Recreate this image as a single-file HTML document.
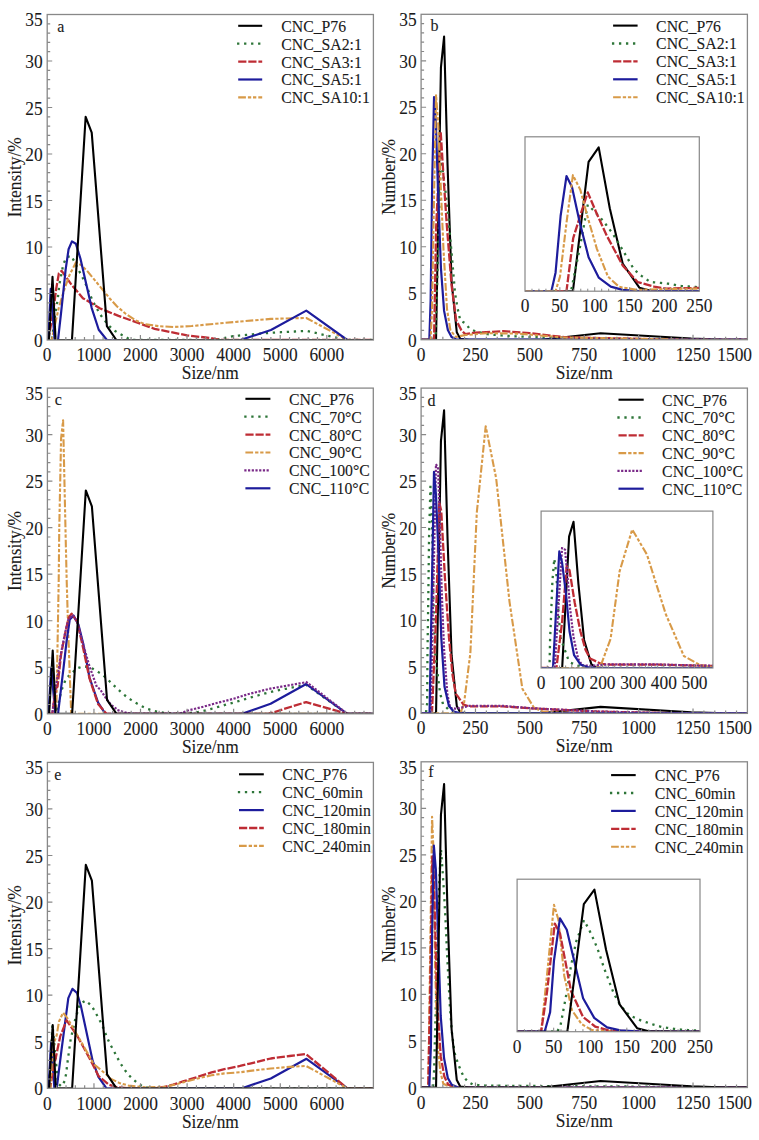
<!DOCTYPE html>
<html><head><meta charset="utf-8"><style>
html,body{margin:0;padding:0;background:#fff;}
svg{display:block;}
text{font-family:"Liberation Serif", serif;fill:#1a1a1a;stroke:#1a1a1a;stroke-width:0.1px;}
</style></head><body>
<svg width="759" height="1140" viewBox="0 0 759 1140">
<rect width="759" height="1140" fill="#fff"/>
<clipPath id="c1"><rect x="47.2" y="14.5" width="326.2" height="325.5"/></clipPath>
<g clip-path="url(#c1)">
<polyline points="47.2,340 51.86,340 55.31,313.96 57.59,300.01 59.41,284.2 63.32,264.2 66.49,257.23 71.48,256.02 77.86,268.67 81.68,275.83 84.85,281.97 89.98,294.8 93.15,301.87 100.18,314.52 104.56,320.19 109.04,325.86 114.07,330.42 120.46,334.23 131.08,340 214.96,340 233.79,336 270.93,332.75 306.3,330.89 347.26,340 373.4,340" stroke="#2d7538" stroke-width="2.3" fill="none" stroke-linejoin="round" stroke-dasharray="0.01 7.0" stroke-linecap="square"/>
<polyline points="47.2,340 48.13,340 52.98,313.68 56.19,288.85 58.9,273.23 61.69,270.9 65.37,276.02 71.76,285.13 82.9,298.15 100.18,308.47 118.54,315.91 154.61,328.84 187,335.35 210.77,338.14 219.62,340 373.4,340" stroke="#be2c34" stroke-width="2.3" fill="none" stroke-linejoin="round" stroke-dasharray="8.2 1.9"/>
<polyline points="47.2,340 51.86,340 54.66,326.05 58.85,307.45 64.49,288.85 69.57,274.9 76,262.35 81.08,264.95 87.37,271.18 98.88,285.13 110.25,299.08 117.1,306.52 125.95,313.96 135.74,320.47 145.06,324.19 159.04,326.24 173.91,326.98 191.66,326.05 210.3,324.19 240.36,321.49 270.93,318.89 306.3,317.96 347.26,340 373.4,340" stroke="#d89a48" stroke-width="2.1" fill="none" stroke-linejoin="round" stroke-dasharray="7.7 2 3.3 1.8 3.3 2"/>
<polyline points="47.2,340 48.37,340 50.7,288.85 54.66,340 58.01,340 60.96,313.96 63.14,293.5 65.66,269.32 68.58,249.23 71.95,241.42 75.86,243.75 80.4,258.53 91.72,308.1 98.74,329.77 106.89,340 240.36,340 270.93,330.05 306.3,310.61 347.26,340 373.4,340" stroke="#1d1c9c" stroke-width="2.2" fill="none" stroke-linejoin="round"/>
<polyline points="47.2,340 48.96,340 52.51,276.76 55.59,340 71.95,340 85.65,116.8 91.72,132.61 106.89,326.05 116.35,340 373.4,340" stroke="#000000" stroke-width="2.1" fill="none" stroke-linejoin="round"/>
</g>
<rect x="47.2" y="14.5" width="326.2" height="325.5" fill="none" stroke="#888888" stroke-width="1.3"/>
<path d="M47.2,330.7h3M47.2,321.4h3M47.2,312.1h3M47.2,302.8h3M47.2,293.5h5M47.2,284.2h3M47.2,274.9h3M47.2,265.6h3M47.2,256.3h3M47.2,247h5M47.2,237.7h3M47.2,228.4h3M47.2,219.1h3M47.2,209.8h3M47.2,200.5h5M47.2,191.2h3M47.2,181.9h3M47.2,172.6h3M47.2,163.3h3M47.2,154h5M47.2,144.7h3M47.2,135.4h3M47.2,126.1h3M47.2,116.8h3M47.2,107.5h5M47.2,98.2h3M47.2,88.9h3M47.2,79.6h3M47.2,70.3h3M47.2,61h5M47.2,51.7h3M47.2,42.4h3M47.2,33.1h3M47.2,23.8h3M56.52,340v-3M65.84,340v-3M75.16,340v-3M84.48,340v-3M93.8,340v-5M103.12,340v-3M112.44,340v-3M121.76,340v-3M131.08,340v-3M140.4,340v-5M149.72,340v-3M159.04,340v-3M168.36,340v-3M177.68,340v-3M187,340v-5M196.32,340v-3M205.64,340v-3M214.96,340v-3M224.28,340v-3M233.6,340v-5M242.92,340v-3M252.24,340v-3M261.56,340v-3M270.88,340v-3M280.2,340v-5M289.52,340v-3M298.84,340v-3M308.16,340v-3M317.48,340v-3M326.8,340v-5M336.12,340v-3M345.44,340v-3M354.76,340v-3M364.08,340v-3" stroke="#888888" stroke-width="1.2" fill="none"/>
<text transform="translate(42.7,347) scale(0.965,1)" font-size="18" text-anchor="end" >0</text>
<text transform="translate(42.7,300.5) scale(0.965,1)" font-size="18" text-anchor="end" >5</text>
<text transform="translate(42.7,254) scale(0.965,1)" font-size="18" text-anchor="end" >10</text>
<text transform="translate(42.7,207.5) scale(0.965,1)" font-size="18" text-anchor="end" >15</text>
<text transform="translate(42.7,161) scale(0.965,1)" font-size="18" text-anchor="end" >20</text>
<text transform="translate(42.7,114.5) scale(0.965,1)" font-size="18" text-anchor="end" >25</text>
<text transform="translate(42.7,68) scale(0.965,1)" font-size="18" text-anchor="end" >30</text>
<text transform="translate(42.7,26.3) scale(0.965,1)" font-size="18" text-anchor="end" >35</text>
<text transform="translate(47.2,361) scale(0.965,1)" font-size="18" text-anchor="middle" >0</text>
<text transform="translate(93.8,361) scale(0.965,1)" font-size="18" text-anchor="middle" >1000</text>
<text transform="translate(140.4,361) scale(0.965,1)" font-size="18" text-anchor="middle" >2000</text>
<text transform="translate(187,361) scale(0.965,1)" font-size="18" text-anchor="middle" >3000</text>
<text transform="translate(233.6,361) scale(0.965,1)" font-size="18" text-anchor="middle" >4000</text>
<text transform="translate(280.2,361) scale(0.965,1)" font-size="18" text-anchor="middle" >5000</text>
<text transform="translate(326.8,361) scale(0.965,1)" font-size="18" text-anchor="middle" >6000</text>
<text transform="translate(210.3,379) scale(0.965,1)" font-size="18" text-anchor="middle" >Size/nm</text>
<text transform="translate(20.6,177.25) rotate(-90) scale(0.965,1)" font-size="18" text-anchor="middle">Intensity/%</text>
<text x="57.3" y="31.9" font-size="16" text-anchor="start" >a</text>
<path d="M238.2,25.8H262.2" stroke="#000000" stroke-width="2.1" fill="none" stroke-linejoin="round"/>
<text transform="translate(281.2,31.7) scale(0.94,1)" font-size="16.8" text-anchor="start" >CNC_P76</text>
<path d="M238.2,43.7H262.2" stroke="#2d7538" stroke-width="2.3" fill="none" stroke-linejoin="round" stroke-dasharray="0.01 7.0" stroke-linecap="square"/>
<text transform="translate(281.2,49.6) scale(0.94,1)" font-size="16.8" text-anchor="start" >CNC_SA2:1</text>
<path d="M238.2,61.6H262.2" stroke="#be2c34" stroke-width="2.3" fill="none" stroke-linejoin="round" stroke-dasharray="8.2 1.9"/>
<text transform="translate(281.2,67.5) scale(0.94,1)" font-size="16.8" text-anchor="start" >CNC_SA3:1</text>
<path d="M238.2,79.5H262.2" stroke="#1d1c9c" stroke-width="2.2" fill="none" stroke-linejoin="round"/>
<text transform="translate(281.2,85.4) scale(0.94,1)" font-size="16.8" text-anchor="start" >CNC_SA5:1</text>
<path d="M238.2,97.4H262.2" stroke="#d89a48" stroke-width="2.1" fill="none" stroke-linejoin="round" stroke-dasharray="7.7 2 3.3 1.8 3.3 2"/>
<text transform="translate(281.2,103.3) scale(0.94,1)" font-size="16.8" text-anchor="start" >CNC_SA10:1</text>
<clipPath id="c2"><rect x="421.1" y="14.3" width="326.3" height="325.4"/></clipPath>
<g clip-path="url(#c2)">
<polyline points="421.1,339.7 436.04,339.7 440.94,67.29 444.09,36.61 447.55,164.91 451.58,281.5 456.78,332.26 460.26,338.77 468.96,339.7 541.18,339.7 600.57,333.19 691.28,338.49 725.65,339.7 747.4,339.7" stroke="#000000" stroke-width="2.1" fill="none" stroke-linejoin="round"/>
<polyline points="421.1,339.7 435.46,339.7 438.25,246.73 440.68,157.48 442.66,170.49 445.53,191.88 448.42,217.91 451.86,256.03 455.04,293.21 457.36,307.16 460.23,320.36 463.69,322.41 466.56,324.36 469.39,328.54 475.48,331.33 486.36,334.12 508.11,335.98 551.62,337.84 595.13,339.7 747.4,339.7" stroke="#2d7538" stroke-width="2.3" fill="none" stroke-linejoin="round" stroke-dasharray="0.01 7.0" stroke-linecap="square"/>
<polyline points="421.1,339.7 434.04,339.7 436.13,228.13 438.44,177.93 440.68,131.44 443.53,177 446.68,223.49 451.58,285.31 456.21,320.36 461.39,330.22 465.26,334.12 475.48,332.73 503.11,331.15 529.87,333.19 566.41,337.38 660.39,339.24 682.14,339.7 747.4,339.7" stroke="#be2c34" stroke-width="2.3" fill="none" stroke-linejoin="round" stroke-dasharray="8.2 1.9"/>
<polyline points="421.1,339.7 429.33,339.7 430.63,300.65 432.22,180.72 434.04,97.04 435.76,120.29 438.07,191.88 440.94,268.11 444.09,310.88 447.86,330.03 451.55,336.91 456.78,339.7 747.4,339.7" stroke="#1d1c9c" stroke-width="2.2" fill="none" stroke-linejoin="round"/>
<polyline points="421.1,339.7 430.63,339.7 432.02,309.02 434.04,195.59 436.04,95.19 438.35,125.87 440.68,184.44 443.53,250.45 446.99,309.02 450.45,330.4 455.91,336.91 465.26,335.05 486.36,333.19 518.99,333.66 562.5,337.38 660.39,339.24 682.14,339.7 747.4,339.7" stroke="#d89a48" stroke-width="2.1" fill="none" stroke-linejoin="round" stroke-dasharray="7.7 2 3.3 1.8 3.3 2"/>
</g>
<rect x="421.1" y="14.3" width="326.3" height="325.4" fill="none" stroke="#888888" stroke-width="1.3"/>
<path d="M421.1,330.4h3M421.1,321.11h3M421.1,311.81h3M421.1,302.51h3M421.1,293.21h5M421.1,283.92h3M421.1,274.62h3M421.1,265.32h3M421.1,256.03h3M421.1,246.73h5M421.1,237.43h3M421.1,228.13h3M421.1,218.84h3M421.1,209.54h3M421.1,200.24h5M421.1,190.95h3M421.1,181.65h3M421.1,172.35h3M421.1,163.05h3M421.1,153.76h5M421.1,144.46h3M421.1,135.16h3M421.1,125.87h3M421.1,116.57h3M421.1,107.27h5M421.1,97.97h3M421.1,88.68h3M421.1,79.38h3M421.1,70.08h3M421.1,60.79h5M421.1,51.49h3M421.1,42.19h3M421.1,32.89h3M421.1,23.6h3M431.98,339.7v-3M442.85,339.7v-3M453.73,339.7v-3M464.61,339.7v-3M475.48,339.7v-5M486.36,339.7v-3M497.24,339.7v-3M508.11,339.7v-3M518.99,339.7v-3M529.87,339.7v-5M540.74,339.7v-3M551.62,339.7v-3M562.5,339.7v-3M573.37,339.7v-3M584.25,339.7v-5M595.13,339.7v-3M606,339.7v-3M616.88,339.7v-3M627.76,339.7v-3M638.63,339.7v-5M649.51,339.7v-3M660.39,339.7v-3M671.26,339.7v-3M682.14,339.7v-3M693.02,339.7v-5M703.89,339.7v-3M714.77,339.7v-3M725.65,339.7v-3M736.52,339.7v-3" stroke="#888888" stroke-width="1.2" fill="none"/>
<text transform="translate(416.6,346.7) scale(0.965,1)" font-size="18" text-anchor="end" >0</text>
<text transform="translate(416.6,300.21) scale(0.965,1)" font-size="18" text-anchor="end" >5</text>
<text transform="translate(416.6,253.73) scale(0.965,1)" font-size="18" text-anchor="end" >10</text>
<text transform="translate(416.6,207.24) scale(0.965,1)" font-size="18" text-anchor="end" >15</text>
<text transform="translate(416.6,160.76) scale(0.965,1)" font-size="18" text-anchor="end" >20</text>
<text transform="translate(416.6,114.27) scale(0.965,1)" font-size="18" text-anchor="end" >25</text>
<text transform="translate(416.6,67.79) scale(0.965,1)" font-size="18" text-anchor="end" >30</text>
<text transform="translate(416.6,26.1) scale(0.965,1)" font-size="18" text-anchor="end" >35</text>
<text transform="translate(421.1,360.7) scale(0.965,1)" font-size="18" text-anchor="middle" >0</text>
<text transform="translate(475.48,360.7) scale(0.965,1)" font-size="18" text-anchor="middle" >250</text>
<text transform="translate(529.87,360.7) scale(0.965,1)" font-size="18" text-anchor="middle" >500</text>
<text transform="translate(584.25,360.7) scale(0.965,1)" font-size="18" text-anchor="middle" >750</text>
<text transform="translate(638.63,360.7) scale(0.965,1)" font-size="18" text-anchor="middle" >1000</text>
<text transform="translate(693.02,360.7) scale(0.965,1)" font-size="18" text-anchor="middle" >1250</text>
<text transform="translate(752,360.7) scale(0.965,1)" font-size="18" text-anchor="end" >1500</text>
<text transform="translate(584.25,378.7) scale(0.965,1)" font-size="18" text-anchor="middle" >Size/nm</text>
<text transform="translate(394.5,177) rotate(-90) scale(0.965,1)" font-size="18" text-anchor="middle">Number/%</text>
<text x="430.6" y="31.1" font-size="16" text-anchor="start" >b</text>
<path d="M613.1,25.6H637.6" stroke="#000000" stroke-width="2.1" fill="none" stroke-linejoin="round"/>
<text transform="translate(656.1,31.5) scale(0.94,1)" font-size="16.8" text-anchor="start" >CNC_P76</text>
<path d="M613.1,43.5H637.6" stroke="#2d7538" stroke-width="2.3" fill="none" stroke-linejoin="round" stroke-dasharray="0.01 7.0" stroke-linecap="square"/>
<text transform="translate(656.1,49.4) scale(0.94,1)" font-size="16.8" text-anchor="start" >CNC_SA2:1</text>
<path d="M613.1,61.4H637.6" stroke="#be2c34" stroke-width="2.3" fill="none" stroke-linejoin="round" stroke-dasharray="8.2 1.9"/>
<text transform="translate(656.1,67.3) scale(0.94,1)" font-size="16.8" text-anchor="start" >CNC_SA3:1</text>
<path d="M613.1,79.3H637.6" stroke="#1d1c9c" stroke-width="2.2" fill="none" stroke-linejoin="round"/>
<text transform="translate(656.1,85.2) scale(0.94,1)" font-size="16.8" text-anchor="start" >CNC_SA5:1</text>
<path d="M613.1,97.2H637.6" stroke="#d89a48" stroke-width="2.1" fill="none" stroke-linejoin="round" stroke-dasharray="7.7 2 3.3 1.8 3.3 2"/>
<text transform="translate(656.1,103.1) scale(0.94,1)" font-size="16.8" text-anchor="start" >CNC_SA10:1</text>
<rect x="525" y="136.8" width="174.3" height="154.4" fill="#fff" stroke="none"/>
<clipPath id="c3"><rect x="525" y="136.8" width="174.3" height="154.4"/></clipPath>
<g clip-path="url(#c3)">
<polyline points="525,291.2 572.9,291.2 588.58,161.95 598.69,147.39 609.78,208.27 622.68,263.58 639.34,287.67 650.5,290.76 678.38,291.2 786.45,291.2 786.45,288.11 786.45,290.63 786.45,291.2 786.45,291.2" stroke="#000000" stroke-width="2.1" fill="none" stroke-linejoin="round"/>
<polyline points="525,291.2 571.02,291.2 579.95,247.09 587.75,204.74 594.09,210.91 603.3,221.06 612.57,233.41 623.58,251.5 633.76,269.14 641.22,275.76 650.43,282.02 661.51,282.99 670.71,283.92 679.78,285.91 699.3,287.23 734.16,288.55 786.45,289.44 786.45,290.32 786.45,291.2 786.45,291.2" stroke="#2d7538" stroke-width="2.3" fill="none" stroke-linejoin="round" stroke-dasharray="0.01 7.0" stroke-linecap="square"/>
<polyline points="525,291.2 566.48,291.2 573.18,238.26 580.57,214.44 587.75,192.38 596.88,214 606.99,236.06 622.68,265.39 637.53,282.02 654.12,286.7 666.53,288.55 699.3,287.89 786.45,287.14 786.45,288.11 786.45,290.1 786.45,290.98 786.45,291.2 786.45,291.2" stroke="#be2c34" stroke-width="2.3" fill="none" stroke-linejoin="round" stroke-dasharray="8.2 1.9"/>
<polyline points="525,291.2 551.38,291.2 555.55,272.67 560.63,215.76 566.48,176.06 571.99,187.09 579.38,221.06 588.58,257.23 598.69,277.52 610.76,286.61 622.61,289.88 639.34,291.2 786.45,291.2" stroke="#1d1c9c" stroke-width="2.2" fill="none" stroke-linejoin="round"/>
<polyline points="525,291.2 555.55,291.2 560,276.64 566.48,222.82 572.9,175.18 580.29,189.74 587.75,217.53 596.88,248.85 607.97,276.64 619.05,286.79 636.55,289.88 666.53,288.99 734.16,288.11 786.45,288.33 786.45,290.1 786.45,290.98 786.45,291.2 786.45,291.2" stroke="#d89a48" stroke-width="2.1" fill="none" stroke-linejoin="round" stroke-dasharray="7.7 2 3.3 1.8 3.3 2"/>
</g>
<rect x="525" y="136.8" width="174.3" height="154.4" fill="none" stroke="#888888" stroke-width="1.2"/>
<path d="M531.97,291.2v-2.5M538.94,291.2v-2.5M545.92,291.2v-2.5M552.89,291.2v-2.5M559.86,291.2v-4M566.83,291.2v-2.5M573.8,291.2v-2.5M580.78,291.2v-2.5M587.75,291.2v-2.5M594.72,291.2v-4M601.69,291.2v-2.5M608.66,291.2v-2.5M615.64,291.2v-2.5M622.61,291.2v-2.5M629.58,291.2v-4M636.55,291.2v-2.5M643.52,291.2v-2.5M650.5,291.2v-2.5M657.47,291.2v-2.5M664.44,291.2v-4M671.41,291.2v-2.5M678.38,291.2v-2.5M685.36,291.2v-2.5M692.33,291.2v-2.5" stroke="#888888" stroke-width="1" fill="none"/>
<text transform="translate(525,312.2) scale(0.965,1)" font-size="18" text-anchor="middle" >0</text>
<text transform="translate(559.86,312.2) scale(0.965,1)" font-size="18" text-anchor="middle" >50</text>
<text transform="translate(594.72,312.2) scale(0.965,1)" font-size="18" text-anchor="middle" >100</text>
<text transform="translate(629.58,312.2) scale(0.965,1)" font-size="18" text-anchor="middle" >150</text>
<text transform="translate(664.44,312.2) scale(0.965,1)" font-size="18" text-anchor="middle" >200</text>
<text transform="translate(699.3,312.2) scale(0.965,1)" font-size="18" text-anchor="middle" >250</text>
<clipPath id="c4"><rect x="47.4" y="388.1" width="325.9" height="325.7"/></clipPath>
<g clip-path="url(#c4)">
<polyline points="47.4,713.8 56.25,713.8 61.37,690.54 66.07,678.44 71.61,673.41 76.64,668.48 83.3,666.34 90.09,667.27 96.8,670.99 102.8,675 108.3,680.02 113.32,684.95 118.4,689.7 123.99,694.72 129.53,698.91 136,703.01 142.1,706.36 148.29,709.15 155.18,711.29 163.79,712.87 177.76,713.8 196.38,712.4 205.09,710.45 212.49,708.5 219.89,706.45 226.41,704.49 232.79,702.82 254.02,696.49 274.27,691 296.39,686.72 306.26,684.95 347.18,713.8 373.3,713.8" stroke="#2d7538" stroke-width="2.3" fill="none" stroke-linejoin="round" stroke-dasharray="0.01 7.0" stroke-linecap="square"/>
<polyline points="47.4,713.8 56.25,713.8 57.65,639.35 58.71,579.8 59.27,527.69 61.09,438.35 63.09,420.2 65.7,538.85 66.67,579.8 68.16,630.05 71.19,713.8 373.3,713.8" stroke="#d89a48" stroke-width="2.1" fill="none" stroke-linejoin="round" stroke-dasharray="7.7 2 3.3 1.8 3.3 2"/>
<polyline points="47.4,713.8 48.56,713.8 51.22,667.74 55.31,713.8 58.02,713.8 63.7,666.34 66.58,641.22 69.79,619.35 73.52,615.62 78.41,624.47 83.3,644.01 89.49,677.51 98.1,702.63 105.41,713.8 242.01,713.8 270.59,703.75 306.21,684.02 347.18,713.8 373.3,713.8" stroke="#1d1c9c" stroke-width="2.2" fill="none" stroke-linejoin="round"/>
<polyline points="47.4,713.8 52.29,713.8 55.69,688.67 57.5,686.81 61.18,653.69 65.51,631.63 68.58,617.95 71.61,613.76 77.2,621.67 83.3,648.66 89.49,678.44 98.1,704.12 100.01,706.36 106.48,713.8 268.69,713.8 306.21,702.07 347.18,713.8 373.3,713.8" stroke="#be2c34" stroke-width="2.3" fill="none" stroke-linejoin="round" stroke-dasharray="8.2 1.9"/>
<polyline points="47.4,713.8 52.29,713.8 55.69,688.67 61.18,652.38 65.51,630.98 68.58,618.88 72.54,615.16 77.2,621.67 83.3,644.94 89.49,666.34 96.8,686.81 100.01,689.23 105.5,697.51 111.09,704.87 118.4,710.36 126.55,712.87 131.2,713.8 179.3,713.8 188.51,710.36 203.32,706.73 218.08,702.63 232.79,699 248.43,694.07 270.59,688.58 306.58,682.16 347.18,713.8 373.3,713.8" stroke="#7a2a88" stroke-width="2.2" fill="none" stroke-linejoin="round" stroke-dasharray="0.01 3.7" stroke-linecap="square"/>
<polyline points="47.4,713.8 49.16,713.8 52.71,650.52 55.78,713.8 72.13,713.8 85.81,490.46 91.88,506.28 107.04,699.84 116.49,713.8 373.3,713.8" stroke="#000000" stroke-width="2.1" fill="none" stroke-linejoin="round"/>
</g>
<rect x="47.4" y="388.1" width="325.9" height="325.7" fill="none" stroke="#888888" stroke-width="1.3"/>
<path d="M47.4,704.49h3M47.4,695.19h3M47.4,685.88h3M47.4,676.58h3M47.4,667.27h5M47.4,657.97h3M47.4,648.66h3M47.4,639.35h3M47.4,630.05h3M47.4,620.74h5M47.4,611.44h3M47.4,602.13h3M47.4,592.83h3M47.4,583.52h3M47.4,574.21h5M47.4,564.91h3M47.4,555.6h3M47.4,546.3h3M47.4,536.99h3M47.4,527.69h5M47.4,518.38h3M47.4,509.07h3M47.4,499.77h3M47.4,490.46h3M47.4,481.16h5M47.4,471.85h3M47.4,462.55h3M47.4,453.24h3M47.4,443.93h3M47.4,434.63h5M47.4,425.32h3M47.4,416.02h3M47.4,406.71h3M47.4,397.41h3M56.71,713.8v-3M66.02,713.8v-3M75.33,713.8v-3M84.65,713.8v-3M93.96,713.8v-5M103.27,713.8v-3M112.58,713.8v-3M121.89,713.8v-3M131.2,713.8v-3M140.51,713.8v-5M149.83,713.8v-3M159.14,713.8v-3M168.45,713.8v-3M177.76,713.8v-3M187.07,713.8v-5M196.38,713.8v-3M205.69,713.8v-3M215.01,713.8v-3M224.32,713.8v-3M233.63,713.8v-5M242.94,713.8v-3M252.25,713.8v-3M261.56,713.8v-3M270.87,713.8v-3M280.19,713.8v-5M289.5,713.8v-3M298.81,713.8v-3M308.12,713.8v-3M317.43,713.8v-3M326.74,713.8v-5M336.05,713.8v-3M345.37,713.8v-3M354.68,713.8v-3M363.99,713.8v-3" stroke="#888888" stroke-width="1.2" fill="none"/>
<text transform="translate(42.9,720.8) scale(0.965,1)" font-size="18" text-anchor="end" >0</text>
<text transform="translate(42.9,674.27) scale(0.965,1)" font-size="18" text-anchor="end" >5</text>
<text transform="translate(42.9,627.74) scale(0.965,1)" font-size="18" text-anchor="end" >10</text>
<text transform="translate(42.9,581.21) scale(0.965,1)" font-size="18" text-anchor="end" >15</text>
<text transform="translate(42.9,534.69) scale(0.965,1)" font-size="18" text-anchor="end" >20</text>
<text transform="translate(42.9,488.16) scale(0.965,1)" font-size="18" text-anchor="end" >25</text>
<text transform="translate(42.9,441.63) scale(0.965,1)" font-size="18" text-anchor="end" >30</text>
<text transform="translate(42.9,399.9) scale(0.965,1)" font-size="18" text-anchor="end" >35</text>
<text transform="translate(47.4,734.8) scale(0.965,1)" font-size="18" text-anchor="middle" >0</text>
<text transform="translate(93.96,734.8) scale(0.965,1)" font-size="18" text-anchor="middle" >1000</text>
<text transform="translate(140.51,734.8) scale(0.965,1)" font-size="18" text-anchor="middle" >2000</text>
<text transform="translate(187.07,734.8) scale(0.965,1)" font-size="18" text-anchor="middle" >3000</text>
<text transform="translate(233.63,734.8) scale(0.965,1)" font-size="18" text-anchor="middle" >4000</text>
<text transform="translate(280.19,734.8) scale(0.965,1)" font-size="18" text-anchor="middle" >5000</text>
<text transform="translate(326.74,734.8) scale(0.965,1)" font-size="18" text-anchor="middle" >6000</text>
<text transform="translate(210.35,752.8) scale(0.965,1)" font-size="18" text-anchor="middle" >Size/nm</text>
<text transform="translate(20.8,550.95) rotate(-90) scale(0.965,1)" font-size="18" text-anchor="middle">Intensity/%</text>
<text x="54.8" y="404.8" font-size="16" text-anchor="start" >c</text>
<path d="M245.4,398.8H270.4" stroke="#000000" stroke-width="2.1" fill="none" stroke-linejoin="round"/>
<text transform="translate(288.9,404.7) scale(0.94,1)" font-size="16.8" text-anchor="start" >CNC_P76</text>
<path d="M245.4,416.7H270.4" stroke="#2d7538" stroke-width="2.3" fill="none" stroke-linejoin="round" stroke-dasharray="0.01 7.0" stroke-linecap="square"/>
<text transform="translate(288.9,422.6) scale(0.94,1)" font-size="16.8" text-anchor="start" >CNC_70°C</text>
<path d="M245.4,434.6H270.4" stroke="#be2c34" stroke-width="2.3" fill="none" stroke-linejoin="round" stroke-dasharray="8.2 1.9"/>
<text transform="translate(288.9,440.5) scale(0.94,1)" font-size="16.8" text-anchor="start" >CNC_80°C</text>
<path d="M245.4,452.5H270.4" stroke="#d89a48" stroke-width="2.1" fill="none" stroke-linejoin="round" stroke-dasharray="7.7 2 3.3 1.8 3.3 2"/>
<text transform="translate(288.9,458.4) scale(0.94,1)" font-size="16.8" text-anchor="start" >CNC_90°C</text>
<path d="M245.4,470.4H270.4" stroke="#7a2a88" stroke-width="2.2" fill="none" stroke-linejoin="round" stroke-dasharray="0.01 3.7" stroke-linecap="square"/>
<text transform="translate(288.9,476.3) scale(0.94,1)" font-size="16.8" text-anchor="start" >CNC_100°C</text>
<path d="M245.4,488.3H270.4" stroke="#1d1c9c" stroke-width="2.2" fill="none" stroke-linejoin="round"/>
<text transform="translate(288.9,494.2) scale(0.94,1)" font-size="16.8" text-anchor="start" >CNC_110°C</text>
<clipPath id="c5"><rect x="421.1" y="388.1" width="326.3" height="325.3"/></clipPath>
<g clip-path="url(#c5)">
<polyline points="421.1,713.4 436.04,713.4 440.94,441.08 444.09,410.41 447.55,538.67 451.58,655.22 456.78,705.96 460.26,712.47 468.96,713.4 541.18,713.4 600.57,706.89 691.28,712.19 725.65,713.4 747.4,713.4" stroke="#000000" stroke-width="2.1" fill="none" stroke-linejoin="round"/>
<polyline points="421.1,713.4 425.89,713.4 427.13,703.46 427.47,653.92 428.32,594.43 429.11,534.02 430.45,486.62 431.95,519.15 433.06,583.28 434.78,650.2 438.05,677.15 440.03,692.95 442.85,703.46 449.38,710.61 455.91,713.4 747.4,713.4" stroke="#2d7538" stroke-width="2.3" fill="none" stroke-linejoin="round" stroke-dasharray="0.01 7.0" stroke-linecap="square"/>
<polyline points="421.1,713.4 431.95,713.4 435.98,618.6 439.24,502.42 441.24,510.78 444.92,577.7 448.94,637.19 452.58,675.29 455.8,693.88 457.82,696.39 463.5,704.66 469.5,706.43 503.11,706.43 532.69,708.47 599.91,711.73 660.39,712.94 682.14,713.4 747.4,713.4" stroke="#be2c34" stroke-width="2.3" fill="none" stroke-linejoin="round" stroke-dasharray="8.2 1.9"/>
<polyline points="421.1,713.4 460.26,713.4 463.93,704.11 470.37,652.99 476.79,512.64 485.71,426.21 496.15,478.25 509.53,601.87 522.36,688.68 534,707.82 542.92,711.54 573.37,713.4 747.4,713.4" stroke="#d89a48" stroke-width="2.1" fill="none" stroke-linejoin="round" stroke-dasharray="7.7 2 3.3 1.8 3.3 2"/>
<polyline points="421.1,713.4 430.74,713.4 435.98,464.31 438.07,468.03 440.03,530.3 441.66,589.79 444.07,649.27 447.33,693.88 450.18,707.82 455.91,708.75 469.39,705.96 503.76,705.96 532.69,708.29 599.91,711.54 660.39,712.94 682.14,713.4 747.4,713.4" stroke="#7a2a88" stroke-width="2.2" fill="none" stroke-linejoin="round" stroke-dasharray="0.01 3.7" stroke-linecap="square"/>
<polyline points="421.1,713.4 429.54,713.4 434,471.75 435.98,494.98 438.83,561.9 441.24,637.19 444.51,686.82 448.94,705.96 453.73,711.54 460.26,713.4 747.4,713.4" stroke="#1d1c9c" stroke-width="2.2" fill="none" stroke-linejoin="round"/>
</g>
<rect x="421.1" y="388.1" width="326.3" height="325.3" fill="none" stroke="#888888" stroke-width="1.3"/>
<path d="M421.1,704.11h3M421.1,694.81h3M421.1,685.52h3M421.1,676.22h3M421.1,666.93h5M421.1,657.63h3M421.1,648.34h3M421.1,639.05h3M421.1,629.75h3M421.1,620.46h5M421.1,611.16h3M421.1,601.87h3M421.1,592.57h3M421.1,583.28h3M421.1,573.99h5M421.1,564.69h3M421.1,555.4h3M421.1,546.1h3M421.1,536.81h3M421.1,527.51h5M421.1,518.22h3M421.1,508.93h3M421.1,499.63h3M421.1,490.34h3M421.1,481.04h5M421.1,471.75h3M421.1,462.45h3M421.1,453.16h3M421.1,443.87h3M421.1,434.57h5M421.1,425.28h3M421.1,415.98h3M421.1,406.69h3M421.1,397.39h3M431.98,713.4v-3M442.85,713.4v-3M453.73,713.4v-3M464.61,713.4v-3M475.48,713.4v-5M486.36,713.4v-3M497.24,713.4v-3M508.11,713.4v-3M518.99,713.4v-3M529.87,713.4v-5M540.74,713.4v-3M551.62,713.4v-3M562.5,713.4v-3M573.37,713.4v-3M584.25,713.4v-5M595.13,713.4v-3M606,713.4v-3M616.88,713.4v-3M627.76,713.4v-3M638.63,713.4v-5M649.51,713.4v-3M660.39,713.4v-3M671.26,713.4v-3M682.14,713.4v-3M693.02,713.4v-5M703.89,713.4v-3M714.77,713.4v-3M725.65,713.4v-3M736.52,713.4v-3" stroke="#888888" stroke-width="1.2" fill="none"/>
<text transform="translate(416.6,720.4) scale(0.965,1)" font-size="18" text-anchor="end" >0</text>
<text transform="translate(416.6,673.93) scale(0.965,1)" font-size="18" text-anchor="end" >5</text>
<text transform="translate(416.6,627.46) scale(0.965,1)" font-size="18" text-anchor="end" >10</text>
<text transform="translate(416.6,580.99) scale(0.965,1)" font-size="18" text-anchor="end" >15</text>
<text transform="translate(416.6,534.51) scale(0.965,1)" font-size="18" text-anchor="end" >20</text>
<text transform="translate(416.6,488.04) scale(0.965,1)" font-size="18" text-anchor="end" >25</text>
<text transform="translate(416.6,441.57) scale(0.965,1)" font-size="18" text-anchor="end" >30</text>
<text transform="translate(416.6,399.9) scale(0.965,1)" font-size="18" text-anchor="end" >35</text>
<text transform="translate(421.1,734.4) scale(0.965,1)" font-size="18" text-anchor="middle" >0</text>
<text transform="translate(475.48,734.4) scale(0.965,1)" font-size="18" text-anchor="middle" >250</text>
<text transform="translate(529.87,734.4) scale(0.965,1)" font-size="18" text-anchor="middle" >500</text>
<text transform="translate(584.25,734.4) scale(0.965,1)" font-size="18" text-anchor="middle" >750</text>
<text transform="translate(638.63,734.4) scale(0.965,1)" font-size="18" text-anchor="middle" >1000</text>
<text transform="translate(693.02,734.4) scale(0.965,1)" font-size="18" text-anchor="middle" >1250</text>
<text transform="translate(752,734.4) scale(0.965,1)" font-size="18" text-anchor="end" >1500</text>
<text transform="translate(584.25,752.4) scale(0.965,1)" font-size="18" text-anchor="middle" >Size/nm</text>
<text transform="translate(394.5,550.75) rotate(-90) scale(0.965,1)" font-size="18" text-anchor="middle">Number/%</text>
<text x="427.4" y="405.8" font-size="16" text-anchor="start" >d</text>
<path d="M618.5,399.7H643.7" stroke="#000000" stroke-width="2.1" fill="none" stroke-linejoin="round"/>
<text transform="translate(662.1,405.6) scale(0.94,1)" font-size="16.8" text-anchor="start" >CNC_P76</text>
<path d="M618.5,417.5H643.7" stroke="#2d7538" stroke-width="2.3" fill="none" stroke-linejoin="round" stroke-dasharray="0.01 7.0" stroke-linecap="square"/>
<text transform="translate(662.1,423.4) scale(0.94,1)" font-size="16.8" text-anchor="start" >CNC_70°C</text>
<path d="M618.5,435.3H643.7" stroke="#be2c34" stroke-width="2.3" fill="none" stroke-linejoin="round" stroke-dasharray="8.2 1.9"/>
<text transform="translate(662.1,441.2) scale(0.94,1)" font-size="16.8" text-anchor="start" >CNC_80°C</text>
<path d="M618.5,453.1H643.7" stroke="#d89a48" stroke-width="2.1" fill="none" stroke-linejoin="round" stroke-dasharray="7.7 2 3.3 1.8 3.3 2"/>
<text transform="translate(662.1,459) scale(0.94,1)" font-size="16.8" text-anchor="start" >CNC_90°C</text>
<path d="M618.5,470.9H643.7" stroke="#7a2a88" stroke-width="2.2" fill="none" stroke-linejoin="round" stroke-dasharray="0.01 3.7" stroke-linecap="square"/>
<text transform="translate(662.1,476.8) scale(0.94,1)" font-size="16.8" text-anchor="start" >CNC_100°C</text>
<path d="M618.5,488.7H643.7" stroke="#1d1c9c" stroke-width="2.2" fill="none" stroke-linejoin="round"/>
<text transform="translate(662.1,494.6) scale(0.94,1)" font-size="16.8" text-anchor="start" >CNC_110°C</text>
<rect x="541.1" y="511.1" width="171.8" height="156.9" fill="#fff" stroke="none"/>
<clipPath id="c6"><rect x="541.1" y="511.1" width="171.8" height="156.9"/></clipPath>
<g clip-path="url(#c6)">
<polyline points="541.1,668 562.18,668 569.08,536.65 573.53,521.86 578.41,583.72 584.08,639.94 591.41,664.41 596.32,667.55 608.59,668 710.45,668 794.2,664.86 798.8,667.42 798.8,668 798.8,668" stroke="#000000" stroke-width="2.1" fill="none" stroke-linejoin="round"/>
<polyline points="541.1,668 547.85,668 549.6,663.2 550.09,639.31 551.29,610.62 552.39,581.48 554.29,558.62 556.41,574.31 557.97,605.24 560.4,637.52 565,650.52 567.79,658.14 571.78,663.2 580.98,666.66 590.19,668 798.8,668" stroke="#2d7538" stroke-width="2.3" fill="none" stroke-linejoin="round" stroke-dasharray="0.01 7.0" stroke-linecap="square"/>
<polyline points="541.1,668 556.41,668 562.08,622.27 566.69,566.24 569.51,570.27 574.69,602.55 580.37,631.24 585.49,649.62 590.03,658.59 592.89,659.8 600.89,663.79 609.36,664.64 656.76,664.64 698.48,665.62 793.28,667.19 798.8,667.78 798.8,668 798.8,668" stroke="#be2c34" stroke-width="2.3" fill="none" stroke-linejoin="round" stroke-dasharray="8.2 1.9"/>
<polyline points="541.1,668 596.32,668 601.51,663.52 610.59,638.86 619.64,571.17 632.22,529.48 646.94,554.58 665.81,614.21 683.91,656.08 700.32,665.31 712.9,667.1 755.85,668 798.8,668" stroke="#d89a48" stroke-width="2.1" fill="none" stroke-linejoin="round" stroke-dasharray="7.7 2 3.3 1.8 3.3 2"/>
<polyline points="541.1,668 554.69,668 562.08,547.86 565.03,549.65 567.79,579.69 570.09,608.38 573.5,637.07 578.1,658.59 582.12,665.31 590.19,665.76 609.21,664.41 657.68,664.41 698.48,665.53 793.28,667.1 798.8,667.78 798.8,668 798.8,668" stroke="#7a2a88" stroke-width="2.2" fill="none" stroke-linejoin="round" stroke-dasharray="0.01 3.7" stroke-linecap="square"/>
<polyline points="541.1,668 553,668 559.29,551.45 562.08,562.65 566.1,594.93 569.51,631.24 574.11,655.18 580.37,664.41 587.12,667.1 596.32,668 798.8,668" stroke="#1d1c9c" stroke-width="2.2" fill="none" stroke-linejoin="round"/>
</g>
<rect x="541.1" y="511.1" width="171.8" height="156.9" fill="none" stroke="#888888" stroke-width="1.2"/>
<path d="M547.24,668v-2.5M553.37,668v-2.5M559.51,668v-2.5M565.64,668v-2.5M571.78,668v-4M577.91,668v-2.5M584.05,668v-2.5M590.19,668v-2.5M596.32,668v-2.5M602.46,668v-4M608.59,668v-2.5M614.73,668v-2.5M620.86,668v-2.5M627,668v-2.5M633.14,668v-4M639.27,668v-2.5M645.41,668v-2.5M651.54,668v-2.5M657.68,668v-2.5M663.81,668v-4M669.95,668v-2.5M676.09,668v-2.5M682.22,668v-2.5M688.36,668v-2.5M694.49,668v-4M700.63,668v-2.5M706.76,668v-2.5" stroke="#888888" stroke-width="1" fill="none"/>
<text transform="translate(541.1,689) scale(0.965,1)" font-size="18" text-anchor="middle" >0</text>
<text transform="translate(571.78,689) scale(0.965,1)" font-size="18" text-anchor="middle" >100</text>
<text transform="translate(602.46,689) scale(0.965,1)" font-size="18" text-anchor="middle" >200</text>
<text transform="translate(633.14,689) scale(0.965,1)" font-size="18" text-anchor="middle" >300</text>
<text transform="translate(663.81,689) scale(0.965,1)" font-size="18" text-anchor="middle" >400</text>
<text transform="translate(694.49,689) scale(0.965,1)" font-size="18" text-anchor="middle" >500</text>
<clipPath id="c7"><rect x="47.4" y="762.4" width="326" height="325.9"/></clipPath>
<g clip-path="url(#c7)">
<polyline points="47.4,1088.3 48.8,1088.3 52.52,1024.98 55.32,1055.71 58.11,1083.64 61.37,1086.44 64.31,1081.6 65.98,1074.61 67.71,1060.74 70.59,1039.88 75.3,1019.02 79.91,1004.03 85.68,1000.49 91.5,1005.71 94.9,1011.48 98.4,1017.91 101.89,1024.33 107.1,1037.55 109.99,1044.07 113.72,1050.59 116.98,1057.01 120.52,1063.53 124.38,1069.4 128.43,1074.89 133.6,1079.73 139.52,1084.67 145.2,1087.37 154.51,1088.3 373.4,1088.3" stroke="#2d7538" stroke-width="2.3" fill="none" stroke-linejoin="round" stroke-dasharray="0.01 7.0" stroke-linecap="square"/>
<polyline points="47.4,1088.3 48.56,1088.3 51.13,1041.74 54.39,1088.3 56.71,1088.3 61.37,1051.05 68.31,998.17 72.41,988.85 77.02,992.95 80.98,1006.36 92.62,1060.74 98.4,1076.94 106.5,1088.3 241.88,1088.3 270.8,1078.52 306.48,1058.78 347.27,1088.3 373.4,1088.3" stroke="#1d1c9c" stroke-width="2.2" fill="none" stroke-linejoin="round"/>
<polyline points="47.4,1088.3 50.19,1088.3 52.99,1069.68 55.6,1058.5 60.21,1036.44 66.59,1020.23 77.58,1036.44 90.29,1059.62 98.4,1075.82 108.78,1084.58 117.26,1087.37 131.23,1088.3 154.51,1088.3 163.83,1087.18 173.14,1084.58 183.81,1081.22 196.43,1077.31 211.52,1072.47 224.37,1069.21 240.02,1065.95 249.99,1063.53 270.8,1058.5 289.57,1055.99 306.01,1054.03 347.27,1088.3 373.4,1088.3" stroke="#be2c34" stroke-width="2.3" fill="none" stroke-linejoin="round" stroke-dasharray="8.2 1.9"/>
<polyline points="47.4,1088.3 50.19,1088.3 52.06,1060.37 54.39,1041.74 56.71,1035.22 59,1021.44 63.09,1012.69 67.19,1017.91 74.09,1029.64 82.19,1043.61 93.79,1064.18 106.5,1074.61 109.99,1078.34 119.21,1082.9 128.43,1085.6 145.2,1087.37 165.32,1086.72 175.47,1084.39 183.81,1082.15 196.43,1078.8 211.52,1075.26 224.37,1073.4 240.02,1072.28 249.99,1070.89 270.8,1068.47 289.57,1066.88 306.01,1065.95 347.27,1088.3 373.4,1088.3" stroke="#d89a48" stroke-width="2.1" fill="none" stroke-linejoin="round" stroke-dasharray="7.7 2 3.3 1.8 3.3 2"/>
<polyline points="47.4,1088.3 49.16,1088.3 52.71,1024.98 55.78,1088.3 72.14,1088.3 85.82,864.83 91.89,880.66 107.06,1074.33 116.51,1088.3 373.4,1088.3" stroke="#000000" stroke-width="2.1" fill="none" stroke-linejoin="round"/>
</g>
<rect x="47.4" y="762.4" width="326" height="325.9" fill="none" stroke="#888888" stroke-width="1.3"/>
<path d="M47.4,1078.99h3M47.4,1069.68h3M47.4,1060.37h3M47.4,1051.05h3M47.4,1041.74h5M47.4,1032.43h3M47.4,1023.12h3M47.4,1013.81h3M47.4,1004.5h3M47.4,995.19h5M47.4,985.87h3M47.4,976.56h3M47.4,967.25h3M47.4,957.94h3M47.4,948.63h5M47.4,939.32h3M47.4,930.01h3M47.4,920.69h3M47.4,911.38h3M47.4,902.07h5M47.4,892.76h3M47.4,883.45h3M47.4,874.14h3M47.4,864.83h3M47.4,855.51h5M47.4,846.2h3M47.4,836.89h3M47.4,827.58h3M47.4,818.27h3M47.4,808.96h5M47.4,799.65h3M47.4,790.33h3M47.4,781.02h3M47.4,771.71h3M56.71,1088.3v-3M66.03,1088.3v-3M75.34,1088.3v-3M84.66,1088.3v-3M93.97,1088.3v-5M103.29,1088.3v-3M112.6,1088.3v-3M121.91,1088.3v-3M131.23,1088.3v-3M140.54,1088.3v-5M149.86,1088.3v-3M159.17,1088.3v-3M168.49,1088.3v-3M177.8,1088.3v-3M187.11,1088.3v-5M196.43,1088.3v-3M205.74,1088.3v-3M215.06,1088.3v-3M224.37,1088.3v-3M233.69,1088.3v-5M243,1088.3v-3M252.31,1088.3v-3M261.63,1088.3v-3M270.94,1088.3v-3M280.26,1088.3v-5M289.57,1088.3v-3M298.89,1088.3v-3M308.2,1088.3v-3M317.51,1088.3v-3M326.83,1088.3v-5M336.14,1088.3v-3M345.46,1088.3v-3M354.77,1088.3v-3M364.09,1088.3v-3" stroke="#888888" stroke-width="1.2" fill="none"/>
<text transform="translate(42.9,1095.3) scale(0.965,1)" font-size="18" text-anchor="end" >0</text>
<text transform="translate(42.9,1048.74) scale(0.965,1)" font-size="18" text-anchor="end" >5</text>
<text transform="translate(42.9,1002.19) scale(0.965,1)" font-size="18" text-anchor="end" >10</text>
<text transform="translate(42.9,955.63) scale(0.965,1)" font-size="18" text-anchor="end" >15</text>
<text transform="translate(42.9,909.07) scale(0.965,1)" font-size="18" text-anchor="end" >20</text>
<text transform="translate(42.9,862.51) scale(0.965,1)" font-size="18" text-anchor="end" >25</text>
<text transform="translate(42.9,815.96) scale(0.965,1)" font-size="18" text-anchor="end" >30</text>
<text transform="translate(42.9,774.2) scale(0.965,1)" font-size="18" text-anchor="end" >35</text>
<text transform="translate(47.4,1110) scale(0.965,1)" font-size="18" text-anchor="middle" >0</text>
<text transform="translate(93.97,1110) scale(0.965,1)" font-size="18" text-anchor="middle" >1000</text>
<text transform="translate(140.54,1110) scale(0.965,1)" font-size="18" text-anchor="middle" >2000</text>
<text transform="translate(187.11,1110) scale(0.965,1)" font-size="18" text-anchor="middle" >3000</text>
<text transform="translate(233.69,1110) scale(0.965,1)" font-size="18" text-anchor="middle" >4000</text>
<text transform="translate(280.26,1110) scale(0.965,1)" font-size="18" text-anchor="middle" >5000</text>
<text transform="translate(326.83,1110) scale(0.965,1)" font-size="18" text-anchor="middle" >6000</text>
<text transform="translate(210.4,1128) scale(0.965,1)" font-size="18" text-anchor="middle" >Size/nm</text>
<text transform="translate(20.8,925.35) rotate(-90) scale(0.965,1)" font-size="18" text-anchor="middle">Intensity/%</text>
<text x="54.3" y="779.5" font-size="16" text-anchor="start" >e</text>
<path d="M239,774.3H263.8" stroke="#000000" stroke-width="2.1" fill="none" stroke-linejoin="round"/>
<text transform="translate(282.2,780.2) scale(0.94,1)" font-size="16.8" text-anchor="start" >CNC_P76</text>
<path d="M239,792.2H263.8" stroke="#2d7538" stroke-width="2.3" fill="none" stroke-linejoin="round" stroke-dasharray="0.01 7.0" stroke-linecap="square"/>
<text transform="translate(282.2,798.1) scale(0.94,1)" font-size="16.8" text-anchor="start" >CNC_60min</text>
<path d="M239,810.1H263.8" stroke="#1d1c9c" stroke-width="2.2" fill="none" stroke-linejoin="round"/>
<text transform="translate(282.2,816) scale(0.94,1)" font-size="16.8" text-anchor="start" >CNC_120min</text>
<path d="M239,828H263.8" stroke="#be2c34" stroke-width="2.3" fill="none" stroke-linejoin="round" stroke-dasharray="8.2 1.9"/>
<text transform="translate(282.2,833.9) scale(0.94,1)" font-size="16.8" text-anchor="start" >CNC_180min</text>
<path d="M239,845.9H263.8" stroke="#d89a48" stroke-width="2.1" fill="none" stroke-linejoin="round" stroke-dasharray="7.7 2 3.3 1.8 3.3 2"/>
<text transform="translate(282.2,851.8) scale(0.94,1)" font-size="16.8" text-anchor="start" >CNC_240min</text>
<clipPath id="c8"><rect x="421.1" y="761.8" width="326.3" height="325.7"/></clipPath>
<g clip-path="url(#c8)">
<polyline points="421.1,1087.5 433.06,1087.5 434.09,1070.75 435.63,1012.12 437.15,946.05 438.68,894.87 440.98,849.27 442.51,869.75 444.03,893.01 445.57,920.93 446.86,949.78 448.64,983.28 449.88,1006.54 451.92,1032.6 454.49,1052.51 457.86,1063.31 461.13,1071.21 464.17,1077.54 468.52,1082.2 473.31,1084.71 486.36,1085.64 551.62,1086.1 638.63,1086.57 682.14,1087.5 747.4,1087.5" stroke="#2d7538" stroke-width="2.3" fill="none" stroke-linejoin="round" stroke-dasharray="0.01 7.0" stroke-linecap="square"/>
<polyline points="421.1,1087.5 428.24,1087.5 430.02,964.66 432.06,816.7 433.35,847.41 435.13,968.39 437.42,1041.62 440.22,1070.84 443.29,1083.78 449.38,1086.57 455.91,1087.5 747.4,1087.5" stroke="#d89a48" stroke-width="2.1" fill="none" stroke-linejoin="round" stroke-dasharray="7.7 2 3.3 1.8 3.3 2"/>
<polyline points="421.1,1087.5 428.24,1087.5 430.02,1001.24 432.3,856.72 433.85,877.19 437.15,1001.24 440.72,1056.14 444.29,1076.43 448.29,1084.71 453.73,1086.57 460.26,1087.5 747.4,1087.5" stroke="#be2c34" stroke-width="2.3" fill="none" stroke-linejoin="round" stroke-dasharray="8.2 1.9"/>
<polyline points="421.1,1087.5 429.28,1087.5 430.91,1046.09 432.06,935.82 433.85,845.55 435.87,869.75 440.72,1015.94 444.03,1058 447.86,1078.19 451.77,1084.71 458.08,1087.5 747.4,1087.5" stroke="#1d1c9c" stroke-width="2.2" fill="none" stroke-linejoin="round"/>
<polyline points="421.1,1087.5 436.04,1087.5 440.94,814.84 444.09,784.13 447.55,912.55 451.58,1029.25 456.78,1080.06 460.26,1086.57 468.96,1087.5 541.18,1087.5 600.57,1080.99 691.28,1086.29 725.65,1087.5 747.4,1087.5" stroke="#000000" stroke-width="2.1" fill="none" stroke-linejoin="round"/>
</g>
<rect x="421.1" y="761.8" width="326.3" height="325.7" fill="none" stroke="#888888" stroke-width="1.3"/>
<path d="M421.1,1078.19h3M421.1,1068.89h3M421.1,1059.58h3M421.1,1050.28h3M421.1,1040.97h5M421.1,1031.67h3M421.1,1022.36h3M421.1,1013.05h3M421.1,1003.75h3M421.1,994.44h5M421.1,985.14h3M421.1,975.83h3M421.1,966.53h3M421.1,957.22h3M421.1,947.91h5M421.1,938.61h3M421.1,929.3h3M421.1,920h3M421.1,910.69h3M421.1,901.39h5M421.1,892.08h3M421.1,882.77h3M421.1,873.47h3M421.1,864.16h3M421.1,854.86h5M421.1,845.55h3M421.1,836.25h3M421.1,826.94h3M421.1,817.63h3M421.1,808.33h5M421.1,799.02h3M421.1,789.72h3M421.1,780.41h3M421.1,771.11h3M431.98,1087.5v-3M442.85,1087.5v-3M453.73,1087.5v-3M464.61,1087.5v-3M475.48,1087.5v-5M486.36,1087.5v-3M497.24,1087.5v-3M508.11,1087.5v-3M518.99,1087.5v-3M529.87,1087.5v-5M540.74,1087.5v-3M551.62,1087.5v-3M562.5,1087.5v-3M573.37,1087.5v-3M584.25,1087.5v-5M595.13,1087.5v-3M606,1087.5v-3M616.88,1087.5v-3M627.76,1087.5v-3M638.63,1087.5v-5M649.51,1087.5v-3M660.39,1087.5v-3M671.26,1087.5v-3M682.14,1087.5v-3M693.02,1087.5v-5M703.89,1087.5v-3M714.77,1087.5v-3M725.65,1087.5v-3M736.52,1087.5v-3" stroke="#888888" stroke-width="1.2" fill="none"/>
<text transform="translate(416.6,1094.5) scale(0.965,1)" font-size="18" text-anchor="end" >0</text>
<text transform="translate(416.6,1047.97) scale(0.965,1)" font-size="18" text-anchor="end" >5</text>
<text transform="translate(416.6,1001.44) scale(0.965,1)" font-size="18" text-anchor="end" >10</text>
<text transform="translate(416.6,954.91) scale(0.965,1)" font-size="18" text-anchor="end" >15</text>
<text transform="translate(416.6,908.39) scale(0.965,1)" font-size="18" text-anchor="end" >20</text>
<text transform="translate(416.6,861.86) scale(0.965,1)" font-size="18" text-anchor="end" >25</text>
<text transform="translate(416.6,815.33) scale(0.965,1)" font-size="18" text-anchor="end" >30</text>
<text transform="translate(416.6,773.6) scale(0.965,1)" font-size="18" text-anchor="end" >35</text>
<text transform="translate(421.1,1109.2) scale(0.965,1)" font-size="18" text-anchor="middle" >0</text>
<text transform="translate(475.48,1109.2) scale(0.965,1)" font-size="18" text-anchor="middle" >250</text>
<text transform="translate(529.87,1109.2) scale(0.965,1)" font-size="18" text-anchor="middle" >500</text>
<text transform="translate(584.25,1109.2) scale(0.965,1)" font-size="18" text-anchor="middle" >750</text>
<text transform="translate(638.63,1109.2) scale(0.965,1)" font-size="18" text-anchor="middle" >1000</text>
<text transform="translate(693.02,1109.2) scale(0.965,1)" font-size="18" text-anchor="middle" >1250</text>
<text transform="translate(752,1109.2) scale(0.965,1)" font-size="18" text-anchor="end" >1500</text>
<text transform="translate(584.25,1127.2) scale(0.965,1)" font-size="18" text-anchor="middle" >Size/nm</text>
<text transform="translate(394.5,924.65) rotate(-90) scale(0.965,1)" font-size="18" text-anchor="middle">Number/%</text>
<text x="428.2" y="776.7" font-size="16" text-anchor="start" >f</text>
<path d="M611.1,775.1H635.7" stroke="#000000" stroke-width="2.1" fill="none" stroke-linejoin="round"/>
<text transform="translate(654.7,781) scale(0.94,1)" font-size="16.8" text-anchor="start" >CNC_P76</text>
<path d="M611.1,793H635.7" stroke="#2d7538" stroke-width="2.3" fill="none" stroke-linejoin="round" stroke-dasharray="0.01 7.0" stroke-linecap="square"/>
<text transform="translate(654.7,798.9) scale(0.94,1)" font-size="16.8" text-anchor="start" >CNC_60min</text>
<path d="M611.1,810.9H635.7" stroke="#1d1c9c" stroke-width="2.2" fill="none" stroke-linejoin="round"/>
<text transform="translate(654.7,816.8) scale(0.94,1)" font-size="16.8" text-anchor="start" >CNC_120min</text>
<path d="M611.1,828.8H635.7" stroke="#be2c34" stroke-width="2.3" fill="none" stroke-linejoin="round" stroke-dasharray="8.2 1.9"/>
<text transform="translate(654.7,834.7) scale(0.94,1)" font-size="16.8" text-anchor="start" >CNC_180min</text>
<path d="M611.1,846.7H635.7" stroke="#d89a48" stroke-width="2.1" fill="none" stroke-linejoin="round" stroke-dasharray="7.7 2 3.3 1.8 3.3 2"/>
<text transform="translate(654.7,852.6) scale(0.94,1)" font-size="16.8" text-anchor="start" >CNC_240min</text>
<rect x="517.1" y="879.2" width="182.9" height="152.5" fill="#fff" stroke="none"/>
<clipPath id="c9"><rect x="517.1" y="879.2" width="182.9" height="152.5"/></clipPath>
<g clip-path="url(#c9)">
<polyline points="517.1,1031.7 557.34,1031.7 560.78,1023.86 565.97,996.41 571.09,965.47 576.21,941.51 583.97,920.16 589.09,929.74 594.21,940.64 599.4,953.71 603.72,967.21 609.72,982.9 613.89,993.79 620.77,1005.99 629.4,1015.32 640.74,1020.37 651.71,1024.08 661.96,1027.04 676.59,1029.22 692.68,1030.39 736.58,1030.83 791.45,1031.05 791.45,1031.26 791.45,1031.7 791.45,1031.7" stroke="#2d7538" stroke-width="2.3" fill="none" stroke-linejoin="round" stroke-dasharray="0.01 7.0" stroke-linecap="square"/>
<polyline points="517.1,1031.7 541.1,1031.7 547.1,974.19 553.97,904.91 558.29,919.29 564.29,975.93 571.97,1010.22 581.41,1023.9 591.72,1029.96 612.21,1031.26 634.16,1031.7 791.45,1031.7" stroke="#d89a48" stroke-width="2.1" fill="none" stroke-linejoin="round" stroke-dasharray="7.7 2 3.3 1.8 3.3 2"/>
<polyline points="517.1,1031.7 541.1,1031.7 547.1,991.31 554.78,923.64 559.97,933.23 571.09,991.31 583.09,1017.02 595.09,1026.52 608.55,1030.39 626.84,1031.26 648.79,1031.7 791.45,1031.7" stroke="#be2c34" stroke-width="2.3" fill="none" stroke-linejoin="round" stroke-dasharray="8.2 1.9"/>
<polyline points="517.1,1031.7 544.61,1031.7 550.1,1012.31 553.97,960.68 559.97,918.41 566.78,929.74 583.09,998.19 594.21,1017.89 607.09,1027.34 620.26,1030.39 641.47,1031.7 791.45,1031.7" stroke="#1d1c9c" stroke-width="2.2" fill="none" stroke-linejoin="round"/>
<polyline points="517.1,1031.7 567.36,1031.7 583.82,904.04 594.43,889.66 606.06,949.79 619.6,1004.42 637.08,1028.21 648.79,1031.26 678.05,1031.7 791.45,1031.7 791.45,1028.65 791.45,1031.13 791.45,1031.7 791.45,1031.7" stroke="#000000" stroke-width="2.1" fill="none" stroke-linejoin="round"/>
</g>
<rect x="517.1" y="879.2" width="182.9" height="152.5" fill="none" stroke="#888888" stroke-width="1.2"/>
<path d="M524.42,1031.7v-2.5M531.73,1031.7v-2.5M539.05,1031.7v-2.5M546.36,1031.7v-2.5M553.68,1031.7v-4M561,1031.7v-2.5M568.31,1031.7v-2.5M575.63,1031.7v-2.5M582.94,1031.7v-2.5M590.26,1031.7v-4M597.58,1031.7v-2.5M604.89,1031.7v-2.5M612.21,1031.7v-2.5M619.52,1031.7v-2.5M626.84,1031.7v-4M634.16,1031.7v-2.5M641.47,1031.7v-2.5M648.79,1031.7v-2.5M656.1,1031.7v-2.5M663.42,1031.7v-4M670.74,1031.7v-2.5M678.05,1031.7v-2.5M685.37,1031.7v-2.5M692.68,1031.7v-2.5" stroke="#888888" stroke-width="1" fill="none"/>
<text transform="translate(517.1,1052.7) scale(0.965,1)" font-size="18" text-anchor="middle" >0</text>
<text transform="translate(553.68,1052.7) scale(0.965,1)" font-size="18" text-anchor="middle" >50</text>
<text transform="translate(590.26,1052.7) scale(0.965,1)" font-size="18" text-anchor="middle" >100</text>
<text transform="translate(626.84,1052.7) scale(0.965,1)" font-size="18" text-anchor="middle" >150</text>
<text transform="translate(663.42,1052.7) scale(0.965,1)" font-size="18" text-anchor="middle" >200</text>
<text transform="translate(700,1052.7) scale(0.965,1)" font-size="18" text-anchor="middle" >250</text>
</svg></body></html>
